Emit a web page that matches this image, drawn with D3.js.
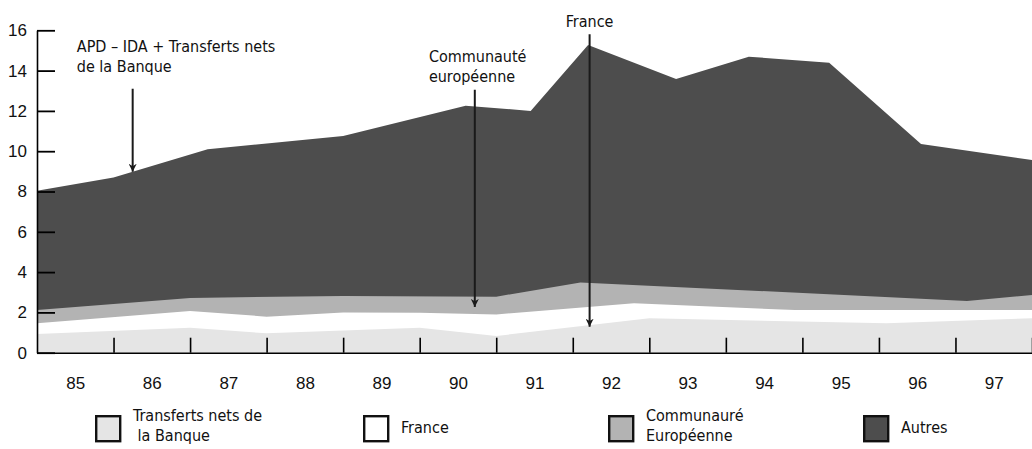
<!DOCTYPE html>
<html>
<head>
<meta charset="utf-8">
<script src="https://cdn.jsdelivr.net/npm/d3@7"></script>
<style>
  body { margin: 0; background: #fff; }
  svg { display: block; font-family: "Liberation Sans Narrow", "DejaVu Sans Condensed", sans-serif; }
</style>
</head>
<body>
<svg id="svg"></svg>
<script>
// year labels, one per year cell
const yearLabels = ["85", "86", "87", "88", "89", "90", "91", "92", "93", "94", "95", "96", "97"];
const yTicks = [0, 2, 4, 6, 8, 10, 12, 14, 16];

// cumulative boundaries [year position, value]
const autresTop = [[1985, 8.04], [1986, 8.7], [1987.23, 10.1], [1989, 10.75], [1990.6, 12.26], [1991.45, 12.0],
  [1992.2, 15.27], [1993.35, 13.58], [1994.3, 14.69], [1995.35, 14.39], [1996.55, 10.36], [1998, 9.56]];
const ceTop = [[1985, 2.12], [1987, 2.72], [1989, 2.82], [1991, 2.78], [1992.1, 3.49], [1997.15, 2.57], [1998, 2.86]];
const franceTop = [[1985, 1.46], [1987, 2.07], [1988, 1.79], [1989, 2.0], [1990, 1.98], [1991, 1.9],
  [1992.8, 2.45], [1994.9, 2.12], [1998, 2.12]];
const transTop = [[1985, 0.93], [1987, 1.24], [1988, 0.96], [1990, 1.24], [1991, 0.83], [1993, 1.71],
  [1996.1, 1.46], [1998, 1.71]];

const seriesNames = ["Autres", "Communauté Européenne", "France", "Transferts nets de la Banque"];
const seriesColors = ["#4d4d4d", "#b3b3b3", "#ffffff", "#e5e5e5"];

const legendItems = [
  { lines: ["Transferts nets de", " la Banque"], color: "#e5e5e5" },
  { lines: ["France"], color: "#ffffff" },
  { lines: ["Communauré", "Européenne"], color: "#b3b3b3" },
  { lines: ["Autres"], color: "#4d4d4d" }
];

// annotations: arrow at [x year, from value, to value]
const notes = [
  { lines: ["APD – IDA + Transferts nets", "de la Banque"], at: [1986.25, 13.1, 8.98], tx: 1985.52, ty: 52, anchor: "start" },
  { lines: ["Communauté", "européenne"], at: [1990.72, 13.05, 2.27], tx: 1990.12, ty: 62, anchor: "start" },
  { lines: ["France"], at: [1992.22, 15.8, 1.29], tx: 1992.22, ty: 27, anchor: "middle" }
];

const width = 1032, height = 449;
const svg = d3.select('#svg').attr('width', width).attr('height', height);

const x = d3.scaleLinear().domain([1985, 1998]).range([37, 1032]);
const y = d3.scaleLinear().domain([0, 16]).range([352.7, 30.3]);

const area = d3.area()
  .x(d => x(d[0]))
  .y0(y(0))
  .y1(d => y(d[1]));

svg.selectAll('path.layer')
  .data([autresTop, ceTop, franceTop, transTop])
  .enter()
  .append('path')
    .attr('class', 'layer')
    .attr('d', area)
    .attr('fill', (d, i) => seriesColors[i]);

// x axis: ticks between years, labels in the middle of each year
const xAxis = svg.append('g')
  .attr('transform', `translate(0,${y(0)})`)
  .call(d3.axisBottom(x)
    .tickValues(d3.range(1986, 1999))
    .tickSize(-15)
    .tickSizeOuter(0)
    .tickFormat(''));
xAxis.select('.domain').attr('stroke-width', 1.6);
xAxis.selectAll('.tick line').attr('stroke-width', 1.6);

svg.append('g')
  .attr('transform', `translate(0,${y(0)})`)
  .call(d3.axisBottom(x)
    .tickValues(yearLabels.map((d, i) => 1985.5 + i))
    .tickSize(0)
    .tickPadding(24)
    .tickFormat((d, i) => yearLabels[i]))
  .call(g => g.select('.domain').remove())
  .selectAll('text')
    .attr('font-size', 17)
    .attr('font-family', 'inherit')
    .attr('fill', '#111');

const yAxis = svg.append('g')
  .attr('transform', `translate(${x(1985)},0)`)
  .call(d3.axisLeft(y)
    .tickValues(yTicks)
    .tickSize(-18)
    .tickSizeOuter(0)
    .tickPadding(10));
yAxis.select('.domain').attr('stroke-width', 1.6);
yAxis.selectAll('.tick line').attr('stroke-width', 1.8);
yAxis.selectAll('text')
  .attr('font-size', 17)
  .attr('font-family', 'inherit')
  .attr('fill', '#111');

// arrows
svg.append('defs').append('marker')
  .attr('id', 'arrow')
  .attr('viewBox', '0 0 10 10')
  .attr('refX', 10)
  .attr('refY', 5)
  .attr('markerUnits', 'userSpaceOnUse')
  .attr('markerWidth', 8)
  .attr('markerHeight', 8)
  .attr('orient', 'auto')
  .append('path')
    .attr('d', 'M0,0 L10,5 L0,10 L3,5 Z')
    .attr('fill', '#1a1a1a');

const noteG = svg.selectAll('g.note')
  .data(notes)
  .enter()
  .append('g')
    .attr('class', 'note');

noteG.append('line')
  .attr('x1', d => x(d.at[0]))
  .attr('x2', d => x(d.at[0]))
  .attr('y1', d => y(d.at[1]))
  .attr('y2', d => y(d.at[2]))
  .attr('stroke', '#1a1a1a')
  .attr('stroke-width', 2)
  .attr('marker-end', 'url(#arrow)');

noteG.append('text')
  .attr('x', d => x(d.tx))
  .attr('y', d => d.ty)
  .attr('text-anchor', d => d.anchor)
  .attr('font-size', 16)
  .attr('fill', '#111')
  .selectAll('tspan')
  .data(d => d.lines.map(l => ({ l, x: x(d.tx) })))
  .enter()
  .append('tspan')
    .attr('x', d => d.x)
    .attr('dy', (d, i) => i === 0 ? 0 : 20)
    .text(d => d.l);

// legend
const legendX = [95, 363, 608, 863];
const legend = svg.selectAll('g.legend')
  .data(legendItems)
  .enter()
  .append('g')
    .attr('class', 'legend')
    .attr('transform', (d, i) => `translate(${legendX[i]},415)`);

legend.append('rect')
  .attr('x', 1.2)
  .attr('y', 1.2)
  .attr('width', 24)
  .attr('height', 25)
  .attr('fill', d => d.color)
  .attr('stroke', '#111')
  .attr('stroke-width', 2.4);

legend.append('text')
  .attr('font-size', 16)
  .attr('fill', '#111')
  .attr('y', d => d.lines.length > 1 ? 6 : 18)
  .selectAll('tspan')
  .data(d => d.lines)
  .enter()
  .append('tspan')
    .attr('x', 38)
    .attr('dy', (d, i) => i === 0 ? 0 : 20)
    .style('white-space', 'pre')
    .text(d => d);
</script>
</body>
</html>
